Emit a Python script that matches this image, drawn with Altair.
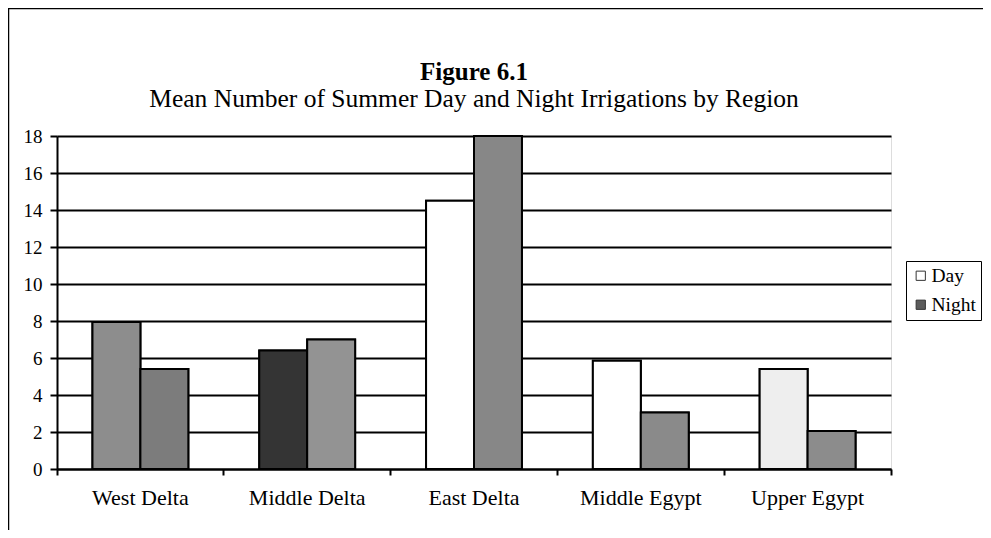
import altair as alt
import pandas as pd

regions = ["West Delta", "Middle Delta", "East Delta", "Middle Egypt", "Upper Egypt"]
series = ["Day", "Night"]
day_values = [7.95, 6.4, 14.5, 5.85, 5.4]
night_values = [5.4, 7.0, 18.0, 3.05, 2.05]
day_shades = ["#8d8d8d", "#343434", "#ffffff", "#ffffff", "#eeeeee"]
night_shades = ["#7c7c7c", "#939393", "#878787", "#8a8a8a", "#8c8c8c"]
title_text = "Figure 6.1"
subtitle_text = "Mean Number of Summer Day and Night Irrigations by Region"

rows = []
for i, r in enumerate(regions):
    rows.append({"region": r, "series": "Day", "value": day_values[i], "shade": day_shades[i]})
    rows.append({"region": r, "series": "Night", "value": night_values[i], "shade": night_shades[i]})
df = pd.DataFrame(rows)

FONT = "Liberation Serif"
W, H = 834, 333

x_enc = alt.X(
    "region:N",
    sort=regions,
    scale=alt.Scale(paddingInner=0, paddingOuter=0),
    axis=alt.Axis(
        title=None,
        labelAngle=0,
        bandPosition=1,
        tickExtra=True,
        tickSize=6,
        tickWidth=2,
        tickColor="black",
        domainColor="black",
        domainWidth=2,
        labelFont=FONT,
        labelFontSize=22,
        labelColor="black",
        labelPadding=12,
        grid=False,
    ),
)
xoff_enc = alt.XOffset("series:N", sort=series, scale=alt.Scale(paddingInner=0, paddingOuter=0.74))
y_enc = alt.Y(
    "value:Q",
    scale=alt.Scale(domain=[0, 18], nice=False),
    axis=alt.Axis(
        title=None,
        values=list(range(0, 19, 2)),
        tickSize=7,
        tickWidth=2,
        tickColor="black",
        domainColor="black",
        domainWidth=2,
        grid=True,
        gridColor="black",
        gridWidth=1.8,
        labelFont=FONT,
        labelFontSize=19,
        labelColor="black",
        labelPadding=8,
    ),
)

legend_bars = alt.Chart(df).mark_bar(stroke="black", strokeWidth=2, opacity=1).encode(
    x=x_enc,
    xOffset=xoff_enc,
    y=y_enc,
    color=alt.Color(
        "series:N",
        sort=series,
        scale=alt.Scale(domain=series, range=["#ffffff", "#5c5c5c"]),
        legend=alt.Legend(
            title=None,
            orient="none",
            legendX=849,
            legendY=125,
            labelFont=FONT,
            labelFontSize=19.5,
            labelColor="black",
            symbolType="square",
            symbolSize=85,
            symbolStrokeColor="#333333",
            symbolStrokeWidth=1,
            strokeColor="black",
            padding=5,
            rowPadding=8,
            labelOffset=1,
        ),
    ),
)

shade_bars = alt.Chart(df).mark_bar(stroke="black", strokeWidth=2, opacity=1).encode(
    x=x_enc,
    xOffset=xoff_enc,
    y=y_enc,
    fill=alt.Fill("shade:N", scale=None, legend=None),
)

title_df = pd.DataFrame({"t": [title_text]})
subtitle_df = pd.DataFrame({"t": [subtitle_text]})
title_mark = alt.Chart(title_df).mark_text(
    font=FONT, fontSize=25, fontWeight="bold", color="black", align="center", baseline="alphabetic"
).encode(text="t:N", x=alt.value(W / 2), y=alt.value(-56))
subtitle_mark = alt.Chart(subtitle_df).mark_text(
    font=FONT, fontSize=25.5, color="black", align="center", baseline="alphabetic"
).encode(text="t:N", x=alt.value(W / 2), y=alt.value(-29))

frame_df = pd.DataFrame({"k": [0]})
top_line = alt.Chart(frame_df).mark_rule(color="black", strokeWidth=2.5).encode(
    x=alt.value(-50), x2=alt.value(930), y=alt.value(-128)
)
left_line = alt.Chart(frame_df).mark_rule(color="black", strokeWidth=2.5).encode(
    x=alt.value(-49), y=alt.value(-129), y2=alt.value(400)
)

chart = (
    alt.layer(legend_bars, shade_bars, title_mark, subtitle_mark, top_line, left_line)
    .properties(
        width=W,
        height=H,
        autosize=alt.AutoSizeParams(type="none"),
        padding={"left": 49, "top": 128, "right": 92, "bottom": 61},
    )
    .configure_view(stroke="#777777", strokeWidth=1, strokeDash=[2, 1])
    .configure(background="white")
)

chart.save("out.html", embed_options={"renderer": "svg", "actions": False})
